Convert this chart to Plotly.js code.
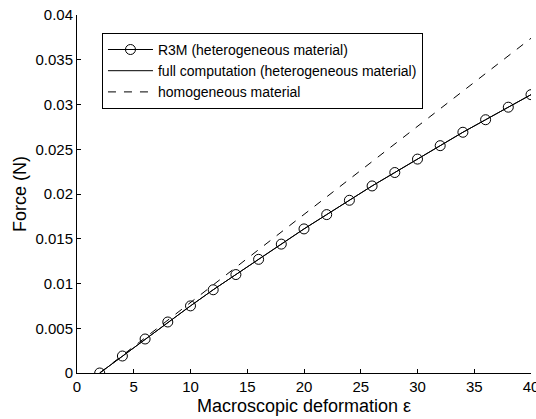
<!DOCTYPE html>
<html>
<head>
<meta charset="utf-8">
<script src="https://cdn.plot.ly/plotly-3.0.1.min.js"></script>
<style>html,body{margin:0;padding:0;background:#fff;}#plot{width:536px;height:419px;}</style>
</head>
<body>
<div id="plot"></div>
<script>
// Data
const strain = [2, 4, 6, 8, 10, 12, 14, 16, 18, 20, 22, 24, 26, 28, 30, 32, 34, 36, 38, 40];
const forceR3M = [0, 0.0019, 0.0038, 0.0057, 0.0075, 0.0093, 0.0110, 0.0127, 0.0144, 0.0161, 0.0177, 0.0193, 0.0209, 0.0224, 0.0239, 0.0254, 0.0269, 0.0283, 0.0297, 0.0311];
const forceFull = [0, 0.0019, 0.0038, 0.0057, 0.0075, 0.0093, 0.0110, 0.0127, 0.0144, 0.0161, 0.0177, 0.0193, 0.0209, 0.0224, 0.0239, 0.0254, 0.0269, 0.0283, 0.0297, 0.0311];
const strainHomog = [2, 40];
const forceHomog = [0, 0.0374];
const xTickVals = [0, 5, 10, 15, 20, 25, 30, 35, 40];
const xTickText = ['0', '5', '10', '15', '20', '25', '30', '35', '40'];
const yTickVals = [0, 0.005, 0.01, 0.015, 0.02, 0.025, 0.03, 0.035, 0.04];
const yTickText = ['0', '0.005', '0.01', '0.015', '0.02', '0.025', '0.03', '0.035', '0.04'];
const seriesNames = ['R3M (heterogeneous material)', 'full computation (heterogeneous material)', 'homogeneous material'];

const font = 'Liberation Sans, Arial, Helvetica, sans-serif';

const traces = [
  {x: strain, y: forceR3M, name: seriesNames[0], type: 'scatter', mode: 'lines+markers',
   line: {color: '#000', width: 1}, marker: {symbol: 'circle-open', size: 10, color: '#000', line: {width: 1, color: '#000'}}},
  {x: strain, y: forceFull, name: seriesNames[1], type: 'scatter', mode: 'lines',
   line: {color: '#000', width: 1}},
  {x: strainHomog, y: forceHomog, name: seriesNames[2], type: 'scatter', mode: 'lines',
   line: {color: '#000', width: 1, dash: '8px,8px'}}
];

const layout = {
  width: 536, height: 419,
  margin: {l: 77, r: 5, t: 15, b: 46, pad: 0},
  paper_bgcolor: '#fff', plot_bgcolor: '#fff',
  font: {family: font, size: 15, color: '#000'},
  showlegend: true,
  legend: {x: 0.055, y: 0.95, xanchor: 'left', yanchor: 'top', bordercolor: '#000', borderwidth: 1,
           bgcolor: '#fff', font: {family: font, size: 14, color: '#000'}, tracegroupgap: 0, itemwidth: 45},
  xaxis: {range: [0, 40], tickvals: xTickVals, ticktext: xTickText, ticks: 'inside', ticklen: 4,
          tickcolor: '#000', showline: true, linecolor: '#000', linewidth: 1, showgrid: false, zeroline: false,
          ticklabeloverflow: 'allow',
          title: {text: 'Macroscopic deformation ε', font: {family: font, size: 18, color: '#000'}, standoff: 5}},
  yaxis: {range: [0, 0.04], tickvals: yTickVals, ticktext: yTickText, ticks: 'inside', ticklen: 4,
          tickcolor: '#000', showline: true, linecolor: '#000', linewidth: 1, showgrid: false, zeroline: false,
          ticklabeloverflow: 'allow',
          title: {text: 'Force (N)', font: {family: font, size: 18, color: '#000'}, standoff: 4}}
};

Plotly.newPlot('plot', traces, layout, {displayModeBar: false, staticPlot: true});
</script>
</body>
</html>
